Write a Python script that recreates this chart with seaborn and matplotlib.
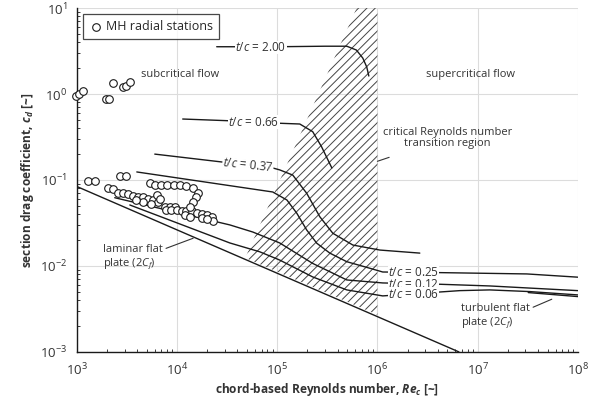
import matplotlib
matplotlib.use("Agg")
import matplotlib.pyplot as plt
import pandas as pd
import seaborn as sns

# MH radial stations (scatter)
mh_re = [980, 1050, 1160, 1950, 2100, 2300, 2890, 3100, 3430,
         1300, 1510, 2700, 3130, 2050, 2300, 2580, 2900, 3250, 3650, 4100, 4600,
         5150, 5800, 6500, 5350, 6000, 6850, 8000, 9300, 10800, 12400, 14300,
         16200, 15400, 14500, 6300, 6750, 7600, 8500, 9500, 7850, 8800, 10000,
         11100, 12400, 14000, 15700, 17600, 19700, 22100, 22900, 12000, 13400,
         17600, 19700, 4600, 5550, 13600, 3940]
mh_cd = [0.955, 0.99, 1.09, 0.875, 0.875, 1.33, 1.22, 1.24, 1.39,
         0.098, 0.098, 0.112, 0.112, 0.080, 0.078, 0.071, 0.070, 0.068, 0.065, 0.063, 0.063,
         0.060, 0.058, 0.056, 0.093, 0.087, 0.087, 0.087, 0.087, 0.087, 0.085, 0.080,
         0.071, 0.063, 0.056, 0.067, 0.060, 0.049, 0.049, 0.048, 0.045, 0.045, 0.045,
         0.043, 0.043, 0.043, 0.041, 0.040, 0.039, 0.037, 0.033, 0.039, 0.037,
         0.036, 0.035, 0.056, 0.052, 0.049, 0.058]

# thickness-ratio drag curves
tc200_re = [24900, 100000, 300000, 495000, 617000, 715000, 783000, 821000]
tc200_cd = [3.55, 3.55, 3.6, 3.6, 3.25, 2.62, 2.06, 1.62]
tc066_re = [11400, 50000, 106000, 168000, 226000, 277000, 351000]
tc066_cd = [0.512, 0.48, 0.457, 0.448, 0.365, 0.244, 0.138]
tc037_re = [6000, 90300, 106000, 143000, 197000, 266000, 359000, 569000, 1.06e6, 2.65e6]
tc037_cd = [0.200, 0.138, 0.131, 0.114, 0.070, 0.0374, 0.024, 0.0175, 0.0153, 0.0141]
tc025_re = [3970, 90300, 125000, 157000, 197000, 248000, 335000, 495000, 840000,
            1.13e6, 4.2e6, 3.1e7, 1e8]
tc025_cd = [0.124, 0.0725, 0.0585, 0.041, 0.0262, 0.0184, 0.0141, 0.0112, 0.0094,
            0.0085, 0.00836, 0.00807, 0.0074]
tc012_re = [2390, 33700, 57100, 106000, 226000, 495000, 1.13e6, 4.2e6, 1.32e7, 1e8]
tc012_cd = [0.0622, 0.030, 0.0248, 0.0185, 0.0107, 0.00687, 0.00634, 0.00612, 0.00585, 0.00516]
tc006_re = [3380, 33700, 67000, 106000, 226000, 495000, 1.13e6, 6.64e6, 1.32e7, 3.32e7, 1e8]
tc006_cd = [0.0512, 0.0185, 0.0146, 0.0117, 0.00745, 0.00526, 0.00448, 0.00516, 0.00526,
            0.00503, 0.0046]

# flat plate references
lam_re = [1000, 6.5e6]
lam_cd = [0.084, 0.001]
turb_re = [3.2e7, 1e8]
turb_cd = [0.0049, 0.0044]

# transition region outline
trans_re = [4.8e4, 6.2e5, 1e6, 1e6]
trans_cd = [0.0124, 10, 10, 0.0027]

tc_labels = ["2.00", "0.66", "0.37", "0.25", "0.12", "0.06"]
label_re = [68600, 58500, 51000, 2.3e6, 2.3e6, 2.3e6]
label_cd = [3.5, 0.47, 0.148, 0.0084, 0.0061, 0.0047]
label_rot = [0, 0, -6, 0, 0, 0]

sns.set_theme(style="whitegrid")
plt.rcParams["font.family"] = ["Open Sans", "DejaVu Sans"]
plt.rcParams["mathtext.fontset"] = "custom"
plt.rcParams["mathtext.rm"] = "Open Sans"
plt.rcParams["mathtext.it"] = "Open Sans:italic"
plt.rcParams["mathtext.bf"] = "Open Sans:bold"
plt.rcParams["mathtext.bfit"] = "Open Sans:italic:bold"
plt.rcParams["hatch.linewidth"] = 0.7

fig, ax = plt.subplots(figsize=(6, 4.04), dpi=100)
fig.subplots_adjust(left=0.128, right=0.963, top=0.98, bottom=0.129)
ax.set_xscale("log")
ax.set_yscale("log")

# hatched transition region
ax.fill(trans_re, trans_cd, facecolor="none", edgecolor="#444444",
        hatch="////", linewidth=0, zorder=1)

curves = [(tc200_re, tc200_cd), (tc066_re, tc066_cd), (tc037_re, tc037_cd),
          (tc025_re, tc025_cd), (tc012_re, tc012_cd), (tc006_re, tc006_cd),
          (lam_re, lam_cd), (turb_re, turb_cd)]
for xs, ys in curves:
    d = pd.DataFrame({"re": xs, "cd": ys})
    sns.lineplot(data=d, x="re", y="cd", sort=False, estimator=None, color="#1a1a1a",
                 linewidth=1.0, ax=ax, zorder=2)

sns.scatterplot(x=mh_re, y=mh_cd, ax=ax, s=30, facecolor="white", edgecolor="#1a1a1a",
                linewidth=0.8, zorder=4, clip_on=False, label="MH radial stations")

for t, xr, yc, rot in zip(tc_labels, label_re, label_cd, label_rot):
    ax.text(xr, yc, r"$\mathit{t/c}$ = " + t, ha="center", va="center", fontsize=8.5,
            rotation=rot, color="#333333", zorder=3,
            bbox=dict(boxstyle="square,pad=0.02", fc="white", ec="none"))

ax.text(10700, 1.71, "subcritical flow", ha="center", va="center", fontsize=8, color="#333333")
ax.text(8.5e6, 1.71, "supercritical flow", ha="center", va="center", fontsize=8, color="#333333")
ax.annotate("critical Reynolds number\ntransition region", xy=(1.0e6, 0.165), xytext=(5e6, 0.31),
            ha="center", va="center", fontsize=8, color="#333333", linespacing=1.0,
            arrowprops=dict(arrowstyle="-", color="#333333", lw=0.8, shrinkA=12, shrinkB=0))
ax.annotate("laminar flat\nplate ($\\mathit{2C_f}$)", xy=(14500, 0.021), xytext=(1820, 0.0124),
            ha="left", va="center", fontsize=8, color="#333333", linespacing=1.1,
            arrowprops=dict(arrowstyle="-", color="#333333", lw=0.8, shrinkA=32, shrinkB=0,
                            relpos=(1.0, 0.8)))
ax.annotate("turbulent flat\nplate ($\\mathit{2C_f}$)", xy=(5.5e7, 0.0041), xytext=(6.8e6, 0.00255),
            ha="left", va="center", fontsize=8, color="#333333", linespacing=1.1,
            arrowprops=dict(arrowstyle="-", color="#333333", lw=0.8, shrinkA=0, shrinkB=0,
                            relpos=(1.0, 0.8)))

ax.set_xlim(1e3, 1e8)
ax.set_ylim(1e-3, 1e1)
ax.grid(True, which="major", color="#dcdcdc", linewidth=0.8)
ax.grid(False, which="minor")
ax.set_axisbelow(True)
for side in ["top", "right"]:
    ax.spines[side].set_visible(False)
for side in ["left", "bottom"]:
    ax.spines[side].set_color("#1a1a1a")
    ax.spines[side].set_linewidth(1.0)
ax.tick_params(which="both", direction="in", colors="#1a1a1a", labelcolor="#333333")
ax.tick_params(which="major", length=4, width=0.8, labelsize=9.5)
ax.tick_params(which="minor", length=2, width=0.6, left=True, bottom=True)
ax.tick_params(axis="both", which="both", top=False, right=False)
ax.tick_params(axis="x", which="major", pad=7)
ax.tick_params(axis="y", which="major", pad=7)

ax.set_xlabel("chord-based Reynolds number, $\\mathbfit{Re_c}$ [~]", fontsize=8.6,
              fontweight="bold", color="#333333", labelpad=2)
ax.set_ylabel("section drag coefficient, $\\mathbfit{c_d}$ [~]", fontsize=8.6,
              fontweight="bold", color="#333333", labelpad=3)

leg = ax.legend(loc="upper left", fontsize=9, frameon=True, fancybox=False,
                borderpad=0.45, handletextpad=0.2, borderaxespad=0.5, handlelength=1.2)
leg.get_frame().set_edgecolor("#1a1a1a")
leg.get_frame().set_linewidth(0.9)

fig.savefig("out.png", dpi=100)
